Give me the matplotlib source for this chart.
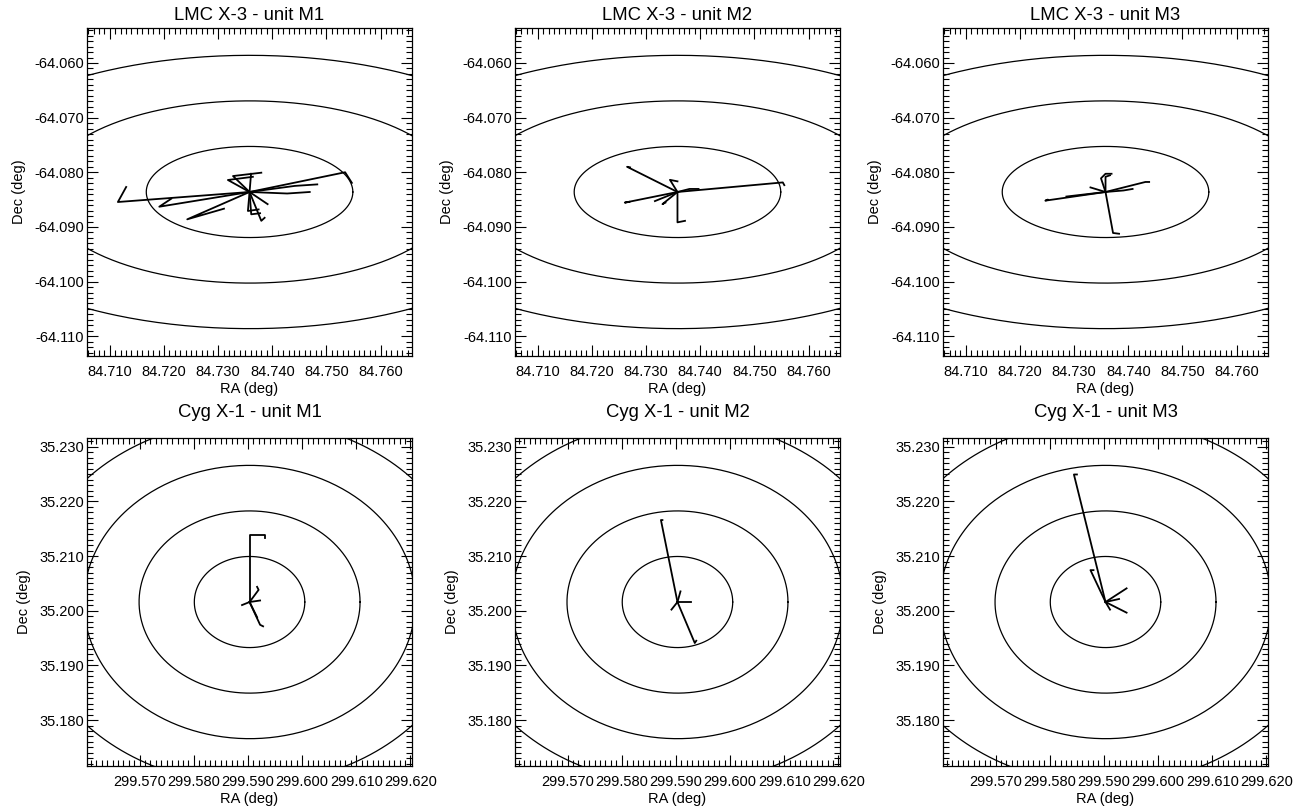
import numpy as np
import matplotlib
matplotlib.use('Agg')
import matplotlib.pyplot as plt
from matplotlib.ticker import MultipleLocator, FormatStrFormatter

plt.rcParams['font.family'] = ['Liberation Sans', 'DejaVu Sans']

# sources and plot centres (deg)
sources = ['LMC X-3', 'Cyg X-1']
src_ra = [84.7358, 299.5903]
src_dec = [-64.0836, 35.2016]
units = ['M1', 'M2', 'M3']
ring_radii = [30, 60, 90, 120]      # arcsec
half_range = 0.03                   # deg

# pointing tracks, offsets from the source in arcsec (dRA*3600, dDec*3600)
lmc_m1 = [
    [(0, 0), (-87.5, -6.6), (-82, 3.3)],
    [(0, 0), (-60, -9.7), (-52, -4.4)],
    [(0, 0), (-41.4, -18), (-17, -11)],
    [(0, 0), (-11, 10.5), (7.8, 12.7)],
    [(0, 0), (-14.4, 7.9), (2.2, 10)],
    [(0, 0), (-1.1, -12.5), (6, -11.5)],
    [(0, 0), (1.1, -14.7), (7, -14)],
    [(0, 0), (7.8, -19), (10, -17)],
    [(0, 0), (63.5, 13), (68, 6)],
    [(0, 0), (30, 4), (45, 5)],
    [(0, 0), (25, -1), (40, 0)],
    [(0, 0), (12, -8)],
    [(0, 0), (1, 12)],
]
lmc_m2 = [
    [(0, 0), (-33.5, 16.6), (-31.5, 16.2)],
    [(0, 0), (-35, -7), (-32, -6.5)],
    [(0, 0), (0, -20), (5, -19)],
    [(0, 0), (70, 6.3), (71, 4.5)],
    [(0, 0), (-15, -6)],
    [(0, 0), (-10, -8), (-8, -7)],
    [(0, 0), (-5, 8), (0, 7)],
    [(0, 0), (8, 2), (14, 2)],
]
lmc_m3 = [
    [(0, 0), (-40, -5.7), (-38.5, -5.1)],
    [(0, 0), (-26, -3)],
    [(0, 0), (26.5, 6.6), (29, 6.6)],
    [(0, 0), (0, 10), (3, 11)],
    [(0, 0), (-3, 9), (0, 12), (4, 12)],
    [(0, 0), (5, -27), (9, -27.5)],
    [(0, 0), (12, 1), (18, 2)],
    [(0, 0), (-10, 3)],
]
cyg_m1 = [
    [(0, 0), (0, 44), (10, 44), (10, 42)],
    [(0, 0), (7, -15), (9, -16)],
    [(0, 0), (5, -10)],
    [(0, 0), (6, 8), (5, 10)],
    [(0, 0), (-5, -2)],
    [(0, 0), (7, 1)],
]
cyg_m2 = [
    [(0, 0), (-11, 54), (-10, 54)],
    [(0, 0), (11.5, -27), (12.5, -25.5)],
    [(0, 0), (9, 0)],
    [(0, 0), (-4, -5)],
    [(0, 0), (2, 7)],
]
cyg_m3 = [
    [(0, 0), (-21, 84), (-19, 84)],
    [(0, 0), (-10, 21), (-8, 21)],
    [(0, 0), (14, 9)],
    [(0, 0), (14, -7)],
    [(0, 0), (9, 2)],
    [(0, 0), (3, -5)],
]
tracks = [[lmc_m1, lmc_m2, lmc_m3], [cyg_m1, cyg_m2, cyg_m3]]

fig = plt.figure(figsize=(13.09, 8.07), dpi=100)
col_left = [0.0665, 0.3934, 0.7204]
row_bottom = [0.5589, 0.0508]
title_pad = [5.5, 15]
w, h = 0.2483, 0.4064

for i, src in enumerate(sources):
    ra0, dec0 = src_ra[i], src_dec[i]
    cosd = np.cos(np.radians(dec0))
    for j, unit in enumerate(units):
        ax = fig.add_axes([col_left[j], row_bottom[i], w, h])
        # rings of constant angular distance
        t = np.linspace(0, 2 * np.pi, 400)
        for r in ring_radii:
            rd = r / 3600.
            ax.plot(ra0 + rd / cosd * np.cos(t), dec0 + rd * np.sin(t),
                    color='black', lw=0.9)
        # pointing tracks
        for tr in tracks[i][j]:
            tr = np.array(tr, dtype=float)
            ax.plot(ra0 + tr[:, 0] / 3600., dec0 + tr[:, 1] / 3600.,
                    color='black', lw=1.3)
        ax.set_xlim(ra0 - half_range, ra0 + half_range)
        ax.set_ylim(dec0 - half_range, dec0 + half_range)
        ax.xaxis.set_major_locator(MultipleLocator(0.01))
        ax.xaxis.set_minor_locator(MultipleLocator(0.001))
        ax.yaxis.set_major_locator(MultipleLocator(0.01))
        ax.yaxis.set_minor_locator(MultipleLocator(0.001))
        ax.xaxis.set_major_formatter(FormatStrFormatter('%.3f'))
        ax.yaxis.set_major_formatter(FormatStrFormatter('%.3f'))
        ax.tick_params(which='both', direction='in', top=True, right=True,
                       labelsize=10.5, width=0.8)
        ax.tick_params(axis='x', pad=6.5)
        ax.tick_params(axis='y', pad=2)
        ax.tick_params(which='major', length=8)
        ax.tick_params(which='minor', length=4)
        for s in ax.spines.values():
            s.set_linewidth(0.9)
        ax.set_xlabel('RA (deg)', fontsize=10.5, labelpad=2.4)
        ax.set_ylabel('Dec (deg)', fontsize=10.5, labelpad=6.3)
        ax.set_title(f'{src} - unit {unit}', fontsize=13.3, pad=title_pad[i])

plt.savefig('out.png', dpi=100)
plt.close()
